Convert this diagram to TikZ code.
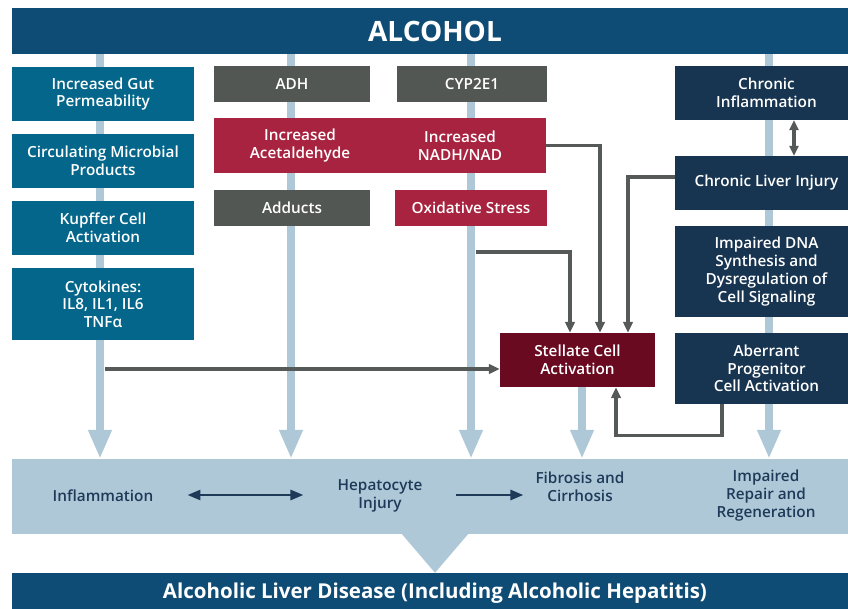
\documentclass[tikz,border=0pt]{standalone}
\usepackage{fontspec}
\IfFontExistsTF{Open Sans Semibold}{%
  \setmainfont{Open Sans}[BoldFont={Open Sans Semibold}]}{%
  \IfFontExistsTF{OpenSans-Semibold.otf}{%
    \setmainfont{Open Sans}[BoldFont={OpenSans-Semibold.otf}]}{%
    \IfFontExistsTF{OpenSans-SemiBold.ttf}{%
      \setmainfont{Open Sans}[BoldFont={OpenSans-SemiBold.ttf}]}{%
      \setmainfont{Open Sans}[BoldFont={Open Sans},BoldFeatures={FakeBold=1.6}]}}}
\newfontfamily\headfont{Open Sans}
\usetikzlibrary{arrows.meta,backgrounds}

\definecolor{banner}{HTML}{0F4C75}
\definecolor{gutblue}{HTML}{04668A}
\definecolor{enzgray}{HTML}{535753}
\definecolor{crimson}{HTML}{A8233F}
\definecolor{maroon}{HTML}{690A20}
\definecolor{navy}{HTML}{173450}
\definecolor{shaftblue}{HTML}{AFC8D8}
\definecolor{linkgray}{HTML}{555957}
\definecolor{bandtext}{HTML}{1E3A58}

\tikzset{
  box/.style={text=white,align=center,inner sep=0pt,
              font=\bfseries\fontsize{15.3}{17.7}\selectfont},
  gutbox/.style={box,fill=gutblue,minimum width=182,minimum height=#1},
  gutbox/.default=54,
  enzbox/.style={box,fill=enzgray,minimum width=#1,minimum height=36},
  redbox/.style={box,fill=crimson,minimum width=#1,minimum height=36},
  navybox/.style={box,fill=navy,minimum width=183,minimum height=#1},
  navybox/.default=54,
  bannerbox/.style={fill=banner,text=white,inner sep=0pt,minimum width=846},
  shaft/.style={draw=shaftblue,line width=8.5,-{Triangle[length=29pt,width=22pt]}},
  link/.style={draw=linkgray,line width=3.2,-{Triangle[length=11pt,width=9.5pt]}},
  twoway/.style={draw=linkgray,line width=3.2,
                 {Triangle[length=10pt,width=9pt]}-{Triangle[length=10pt,width=9pt]}},
  bandtxt/.style={text=bandtext,align=center,inner sep=0pt,
                  font=\bfseries\fontsize{15.3}{18}\selectfont},
  bandlink/.style={draw=bandtext,line width=2.6,-{Triangle[length=13pt,width=10pt]}},
}

\begin{document}
\begin{tikzpicture}[x=1pt,y=-1pt]
  \useasboundingbox (0,0) rectangle (848,609);

  % banners and band
  \node[bannerbox,minimum height=46] (alcohol) at (435,31)
    {\headfont\bfseries\fontsize{28}{30}\selectfont ALCOHOL};
  \node[fill=shaftblue,inner sep=0pt,minimum width=846,minimum height=75] (band) at (435,496.5) {};
  \node[bannerbox,minimum height=40] (disease) at (435,593)
    {\headfont\bfseries\fontsize{20.5}{22}\selectfont Alcoholic Liver Disease (Including Alcoholic Hepatitis)};
  \fill[shaftblue] ([xshift=-33pt]band.south) -- ([xshift=33pt]band.south)
    -- (disease.north) -- cycle;

  % left column
  \node[gutbox] (gut) at (103,94) {Increased Gut\\Permeability};
  \node[gutbox] (microbial) at (103,161) {Circulating Microbial\\Products};
  \node[gutbox] (kupffer) at (103,228) {Kupffer Cell\\Activation};
  \node[gutbox=72] (cytokines) at (103,304) {Cytokines:\\IL8, IL1, IL6\\TNFα};

  % metabolism
  \node[enzbox=156] (adh) at (292,84) {ADH};
  \node[enzbox=150] (cyp) at (472,84) {CYP2E1};
  \node[fill=crimson,inner sep=0pt,minimum width=332,minimum height=55] (metab) at (380,145.5) {};
  \node[box] (acet) at (300,145.5) {Increased\\Acetaldehyde};
  \node[box] (nadh) at (460,145.5) {Increased\\NADH/NAD};
  \node[enzbox=156] (adducts) at (292,208) {Adducts};
  \node[redbox=152] (oxid) at (471,208) {Oxidative Stress};

  \node[box,fill=maroon,minimum width=155,minimum height=54] (stellate) at (577.5,360) {Stellate Cell\\Activation};

  % right column
  \node[navybox] (chrinfl) at (766.5,93) {Chronic\\Inflammation};
  \node[navybox] (injury) at (766.5,183) {Chronic Liver Injury};
  \node[navybox=91] (dna) at (766.5,271.5) {Impaired DNA\\Synthesis and\\Dysregulation of\\Cell Signaling};
  \node[navybox=71] (aberrant) at (766.5,368.5) {Aberrant\\Progenitor\\Cell Activation};

  % outcomes
  \node[bandtxt] (binfl) at (103,496) {Inflammation};
  \node[bandtxt] (bhep) at (380,496) {Hepatocyte\\Injury};
  \node[bandtxt] (bfib) at (580,487) {Fibrosis and\\Cirrhosis};
  \node[bandtxt] (brepair) at (766,496) {Impaired\\Repair and\\Regeneration};

  \begin{scope}[on background layer]
    \draw[shaft] ([xshift=-3pt]gut.north |- alcohol.south) -- ([xshift=-3pt]gut.north |- band.north);
    \draw[shaft] ([xshift=-1pt]adh.north |- alcohol.south) -- ([xshift=-1pt]adh.north |- band.north);
    \draw[shaft] ([xshift=-1pt]cyp.north |- alcohol.south) -- ([xshift=-1pt]cyp.north |- band.north);
    \draw[shaft] ([xshift=4.5pt]stellate.south) -- ([xshift=4.5pt]stellate.south |- band.north);
    \draw[shaft] ([xshift=2.5pt]chrinfl.north |- alcohol.south) -- ([xshift=2.5pt]chrinfl.north |- band.north);
  \end{scope}

  % connectors into stellate cells
  \coordinate (oxout) at (476,252);
  \coordinate (cytout) at (105,369);
  \draw[link] (metab.east) -| ([xshift=22.5pt]stellate.north);
  \draw[link] (oxout) -| ([xshift=-7.5pt]stellate.north);
  \draw[link] ([yshift=6pt]injury.west) -| ([xshift=50.5pt]stellate.north);
  \draw[link] (cytout) -- (cytout -| stellate.west);
  \draw[link] ([xshift=-44.5pt]aberrant.south) -- ++(0,31) -| ([xshift=38.5pt]stellate.south);
  \draw[twoway] ([xshift=27.5pt]chrinfl.south) -- ([xshift=27.5pt]injury.north);

  \draw[bandlink,{Triangle[length=13pt,width=10pt]}-{Triangle[length=13pt,width=10pt]}]
    ([xshift=34pt,yshift=1pt]binfl.east) -- ([xshift=-34pt,yshift=1pt]bhep.west);
  \draw[bandlink] ([xshift=33pt,yshift=1pt]bhep.east) -- ([xshift=-12pt,yshift=1pt]bhep.east -| bfib.west);
\end{tikzpicture}
\end{document}
